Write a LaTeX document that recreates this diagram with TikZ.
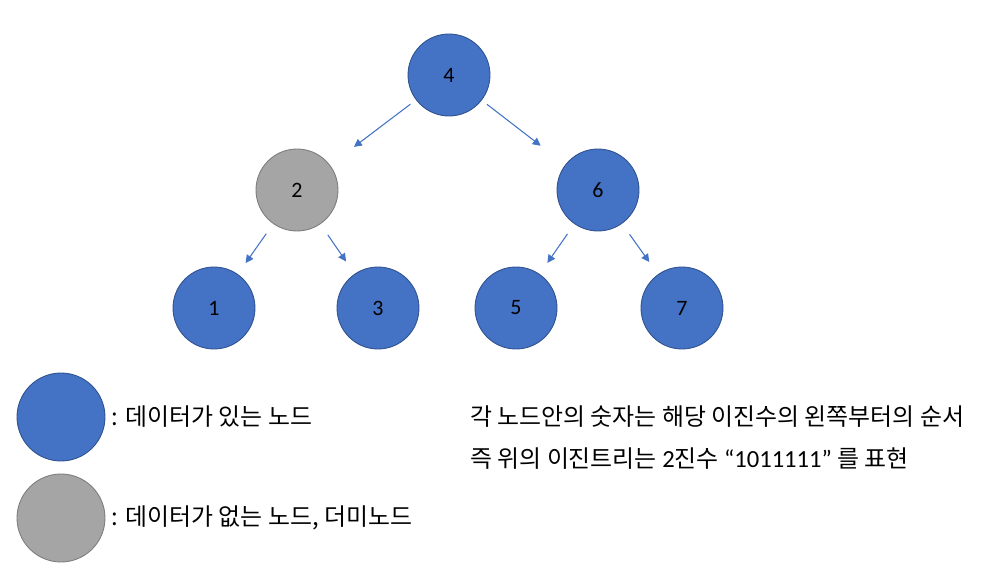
\documentclass[tikz,border=0pt]{standalone}
\usepackage{fontspec}
\setmainfont{Carlito}
\newfontfamily\kr{Noto Sans CJK KR}
\usepackage{tikz}
\usetikzlibrary{arrows.meta, positioning}
\definecolor{nodeblue}{RGB}{68,114,196}
\definecolor{nodeedge}{RGB}{47,82,143}
\definecolor{dummygray}{RGB}{165,165,165}
\definecolor{dummyedge}{RGB}{125,125,125}

\begin{document}
\begin{tikzpicture}[x=0.02cm, y=-0.02cm,
    datanode/.style={circle, draw=nodeedge, fill=nodeblue, line width=0.5pt,
      minimum size=1.64cm, inner sep=0pt, font=\fontsize{12.5}{15}\selectfont},
    dummynode/.style={datanode, draw=dummyedge, fill=dummygray},
    legendnode/.style={datanode, minimum size=1.76cm},
    link/.style={-{Triangle[length=4.5pt, width=4.5pt]}, draw=nodeblue, line width=0.6pt},
    note/.style={anchor=west, inner sep=0pt, font=\kr\fontsize{13.6}{16}\selectfont}]
  \useasboundingbox (0,0) rectangle (990,577);

  \node[datanode] (n4) at (449,75) {4};
  \node[dummynode] (n2) at (297,190) {2};
  \node[datanode] (n6) at (598,190) {6};
  \node[datanode] (n1) at (214,308) {1};
  \node[datanode] (n3) at (378,308) {3};
  \node[datanode] (n5) at (516,308) {5};
  \node[datanode] (n7) at (682,308) {7};

  \draw[link, shorten <=0.14cm, shorten >=0.6cm] (n4) -- (n2);
  \draw[link, shorten <=0.13cm, shorten >=0.62cm] (n4) -- (n6);
  \draw[link, shorten <=0.24cm, shorten >=0.27cm] (n2) -- (n1);
  \draw[link, shorten <=0.26cm, shorten >=0.3cm] (n2) -- (n3);
  \draw[link, shorten <=0.24cm, shorten >=0.27cm] (n6) -- (n5);
  \draw[link, shorten <=0.26cm, shorten >=0.3cm] (n6) -- (n7);

  \node[legendnode] (legdata) at (61,417) {};
  \node[legendnode, draw=dummyedge, fill=dummygray] (legdummy) at (61,518) {};
  \node[note, right=0.12cm of legdata] (txtdata) {: 데이터가 있는 노드};
  \node[note, right=0.12cm of legdummy] (txtdummy) {: 데이터가 없는 노드, 더미노드};

  \node[note] (order) at (470,417) {각 노드안의 숫자는 해당 이진수의 왼쪽부터의 순서};
  \node[note] (binary) at (470,459) {즉 위의 이진트리는 {\rmfamily\fontsize{14}{16}\selectfont 2}진수 {\rmfamily\fontsize{14}{16}\selectfont “1011111”} 를 표현};
\end{tikzpicture}
\end{document}
